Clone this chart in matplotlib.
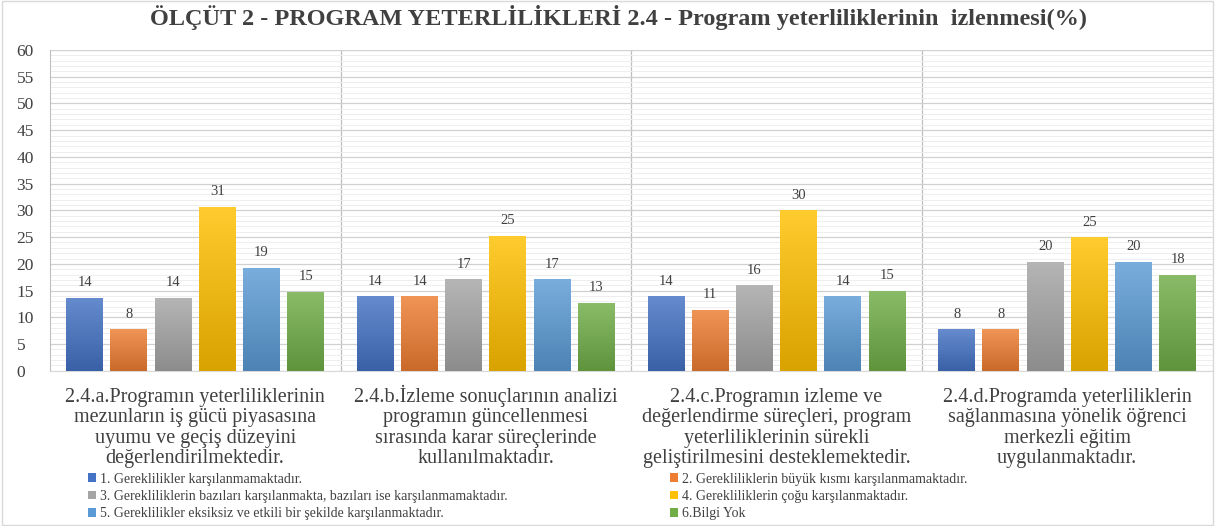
import numpy as np
import matplotlib
matplotlib.use("Agg")
import matplotlib.pyplot as plt
from matplotlib.colors import to_rgb
from matplotlib.ticker import MultipleLocator

plt.rcParams['font.family'] = ['Liberation Serif', 'DejaVu Serif']

# ---- data
categories = [
    "2.4.a.Programın yeterliliklerinin\nmezunların iş gücü piyasasına\nuyumu ve geçiş düzeyini\ndeğerlendirilmektedir.",
    "2.4.b.İzleme sonuçlarının analizi\nprogramın güncellenmesi\nsırasında karar süreçlerinde\nkullanılmaktadır.",
    "2.4.c.Programın izleme ve\ndeğerlendirme süreçleri, program\nyeterliliklerinin sürekli\ngeliştirilmesini desteklemektedir.",
    "2.4.d.Programda yeterliliklerin\nsağlanmasına yönelik öğrenci\nmerkezli eğitim\nuygulanmaktadır.",
]
series_names = [
    "1. Gereklilikler karşılanmamaktadır.",
    "2. Gerekliliklerin büyük kısmı karşılanmamaktadır.",
    "3. Gerekliliklerin bazıları karşılanmakta, bazıları ise karşılanmamaktadır.",
    "4. Gerekliliklerin çoğu karşılanmaktadır.",
    "5. Gereklilikler eksiksiz ve etkili bir şekilde karşılanmaktadır.",
    "6.Bilgi Yok",
]
s1 = [13.7, 13.9, 13.9, 7.8]
s2 = [7.8, 13.9, 11.4, 7.8]
s3 = [13.7, 17.1, 16.0, 20.4]
s4 = [30.7, 25.3, 30.0, 25.0]
s5 = [19.3, 17.1, 13.9, 20.4]
s6 = [14.8, 12.7, 15.0, 18.0]
series = [s1, s2, s3, s4, s5, s6]

colors = ["#4472C4", "#ED7D31", "#A5A5A5", "#FFC000", "#5B9BD5", "#70AD47"]
txt = "#404040"

fig = plt.figure(figsize=(12.15, 5.26), dpi=100)
ax = fig.add_axes([0.041, 0.295, 0.957, 0.610])

x = np.arange(len(categories))
slot = 0.152
bw = 0.127

def gradient_fill(ax, patch, color):
    # light top -> darker bottom, like the office gradient fill
    c = np.array(to_rgb(color))
    top = c + (1 - c) * 0.18
    bot = c * 0.85
    t = np.linspace(0, 1, 64)[:, None]
    img = (bot[None, :] * (1 - t) + top[None, :] * t)[:, None, :]
    x0, y0 = patch.get_x(), patch.get_y()
    w, h = patch.get_width(), patch.get_height()
    im = ax.imshow(img, extent=[x0, x0 + w, y0, y0 + h], origin='lower',
                   aspect='auto', zorder=patch.get_zorder() + 0.1, interpolation='bilinear')
    im.set_clip_path(patch)

handles = []
for i, (vals, col) in enumerate(zip(series, colors)):
    pos = x + (i - 2.5) * slot
    bars = ax.bar(pos, vals, bw, color=col, label=series_names[i], zorder=3)
    handles.append(bars)
    for b, v in zip(bars, vals):
        gradient_fill(ax, b, col)
        ax.text(b.get_x() + bw / 2, v + 1.6, "%.0f" % v, ha='center', va='bottom',
                fontsize=10.5, color=txt, zorder=5)

ax.set_xlim(-0.5, len(categories) - 0.5)
ax.set_ylim(0, 60)
ax.yaxis.set_major_locator(MultipleLocator(5))
ax.yaxis.set_minor_locator(MultipleLocator(1))
ax.grid(axis='y', which='major', color='#D0D0D0', lw=0.9, zorder=0)
ax.grid(axis='y', which='minor', color='#EEEEEE', lw=0.7, zorder=0)
for b in x[:-1] + 0.5:
    ax.axvline(b, color='#BFBFBF', lw=0.9, zorder=1)
ax.tick_params(axis='y', which='both', length=0, labelsize=12.5, labelcolor=txt, pad=24)
ax.tick_params(axis='x', length=0, labelsize=14.5, labelcolor=txt, pad=66.5)
ax.set_xticks(x)
ax.set_xticklabels(categories, linespacing=1.1)
for lab in ax.get_xticklabels():
    lab.set_va('baseline')   # anchor on the last line so the İ accent does not shift 2.4.b
for s in ['top', 'right']:
    ax.spines[s].set_visible(False)
ax.spines['left'].set_color('#BFBFBF')
ax.spines['bottom'].set_color('#D9D9D9')
for lab in ax.get_yticklabels():
    lab.set_ha('left')

fig.text(0.509, 0.966, "ÖLÇÜT 2 - PROGRAM YETERLİLİKLERİ 2.4 - Program yeterliliklerinin  izlenmesi(%)",
         ha='center', va='center', fontsize=17.5, fontweight='bold', color=txt)

# legend is filled column-wise, so reorder to read row-wise
leg_order = [0, 2, 4, 1, 3, 5]
leg = fig.legend([handles[i] for i in leg_order],
                 [series_names[i] for i in leg_order],
                 ncol=2, loc='lower left', bbox_to_anchor=(0.0678, 0.0),
                 borderaxespad=0.0, frameon=False, fontsize=10, labelcolor=txt,
                 handlelength=0.55, handleheight=0.55, handletextpad=0.3,
                 labelspacing=0.32, columnspacing=11.7)

fig.patches.append(plt.Rectangle((0.002, 0.002), 0.996, 0.996, transform=fig.transFigure,
                                 fill=False, edgecolor='#D9D9D9', lw=1))

fig.savefig("out.png", dpi=100)
